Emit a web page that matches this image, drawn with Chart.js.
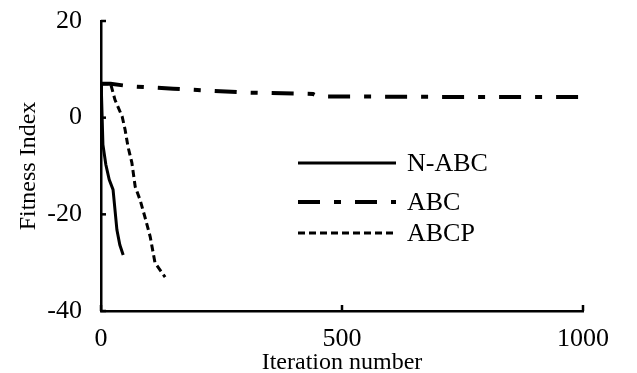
<!DOCTYPE html>
<html>
<head>
<meta charset="utf-8">
<script src="https://cdn.jsdelivr.net/npm/chart.js@4/dist/chart.umd.min.js"></script>
<style>
html,body{margin:0;padding:0;background:#fff;}
#wrap{width:637px;height:373px;position:relative;}
</style>
</head>
<body>
<div id="wrap"><canvas id="c" width="637" height="373"></canvas></div>
<script>
// ---- data ----
const seriesNames = ["N-ABC", "ABC", "ABCP"];
const nabcIter = [0, 1, 4, 10, 17, 25, 33, 39, 46];
const nabcFit  = [7, 4.8, -5.6, -9.7, -12.8, -14.9, -23.2, -26.3, -28.4];
const abcIter  = [0, 20, 60, 150, 300, 440, 450, 700, 1000];
const abcFit   = [7, 7, 6.5, 6.0, 5.2, 4.9, 4.4, 4.3, 4.3];
const abcpIter = [0, 20, 29, 44, 50, 56, 64, 71, 81, 91, 102, 112, 133];
const abcpFit  = [7, 7, 3.7, 0.2, -2.5, -6, -9.3, -14.3, -17, -20.5, -24.6, -30, -33];
const xTicks = [0, 500, 1000];
const yTicks = [-40, -20, 0, 20];

const FONT = "'Liberation Serif', 'Times New Roman', serif";
const toPts = (xs, ys) => xs.map((x, i) => ({x: x, y: ys[i]}));

const styles = [
  {borderWidth: 3, borderDash: []},
  {borderWidth: 4, borderDash: [22, 14, 7, 14]},
  {borderWidth: 3, borderDash: [7, 4]}
];

const legendPlugin = {
  id: 'customLegend',
  afterDraw(chart) {
    const ctx = chart.ctx;
    const rows = [163, 202, 233];
    ctx.save();
    chart.data.datasets.forEach((ds, i) => {
      ctx.beginPath();
      ctx.strokeStyle = '#000';
      ctx.lineWidth = ds.borderWidth;
      ctx.setLineDash(ds.borderDash || []);
      ctx.moveTo(298, rows[i]);
      ctx.lineTo(396, rows[i]);
      ctx.stroke();
      ctx.setLineDash([]);
      ctx.fillStyle = '#000';
      ctx.font = '26px ' + FONT;
      ctx.textBaseline = 'middle';
      ctx.textAlign = 'left';
      ctx.fillText(ds.label, 407, rows[i] + 1);
    });
    ctx.restore();
  }
};

const innerTicks = {
  id: 'innerTicks',
  afterDraw(chart) {
    const ctx = chart.ctx;
    const xs = chart.scales.x, ys = chart.scales.y;
    const ca = chart.chartArea;
    ctx.save();
    ctx.strokeStyle = '#000';
    ctx.lineWidth = 2.5;
    yTicks.forEach(v => {
      const p = ys.getPixelForValue(v);
      ctx.beginPath(); ctx.moveTo(ca.left, p); ctx.lineTo(ca.left + 5, p); ctx.stroke();
    });
    xTicks.forEach(v => {
      const p = xs.getPixelForValue(v);
      ctx.beginPath(); ctx.moveTo(p, ca.bottom); ctx.lineTo(p, ca.bottom - 6); ctx.stroke();
    });
    ctx.restore();
  }
};

new Chart(document.getElementById('c'), {
  type: 'line',
  data: {
    datasets: [
      {label: seriesNames[0], data: toPts(nabcIter, nabcFit)},
      {label: seriesNames[1], data: toPts(abcIter, abcFit)},
      {label: seriesNames[2], data: toPts(abcpIter, abcpFit)}
    ].map((d, i) => Object.assign(d, {
      borderColor: '#000', backgroundColor: '#000', pointRadius: 0,
      tension: 0, fill: false
    }, styles[i]))
  },
  options: {
    responsive: false,
    animation: false,
    layout: {padding: {left: 0, top: 21, right: 54, bottom: 0}},
    plugins: {legend: {display: false}, tooltip: {enabled: false}},
    scales: {
      x: {
        type: 'linear', min: 0, max: 1000,
        afterBuildTicks: s => { s.ticks = xTicks.map(v => ({value: v})); },
        afterFit: s => { s.height = 62; s.paddingLeft = 0; s.paddingRight = 0; },
        grid: {display: false},
        border: {display: true, color: '#000', width: 2.5},
        ticks: {color: '#000', font: {family: FONT, size: 26}, padding: 5, maxRotation: 0,
                callback: v => String(v)},
        title: {display: true, text: 'Iteration number', color: '#000',
                font: {family: FONT, size: 24}, padding: {top: 0, bottom: -4}}
      },
      y: {
        type: 'linear', min: -40, max: 20,
        afterBuildTicks: s => { s.ticks = yTicks.map(v => ({value: v})); },
        afterFit: s => { s.width = 101; s.paddingTop = 0; s.paddingBottom = 0; },
        grid: {display: false},
        border: {display: true, color: '#000', width: 2.5},
        ticks: {color: '#000', font: {family: FONT, size: 26}, padding: 11,
                callback: v => String(v)},
        title: {display: true, text: 'Fitness Index', color: '#000',
                font: {family: FONT, size: 24}, padding: {top: 14, bottom: 0}}
      }
    }
  },
  plugins: [legendPlugin, innerTicks]
});
</script>
</body>
</html>
